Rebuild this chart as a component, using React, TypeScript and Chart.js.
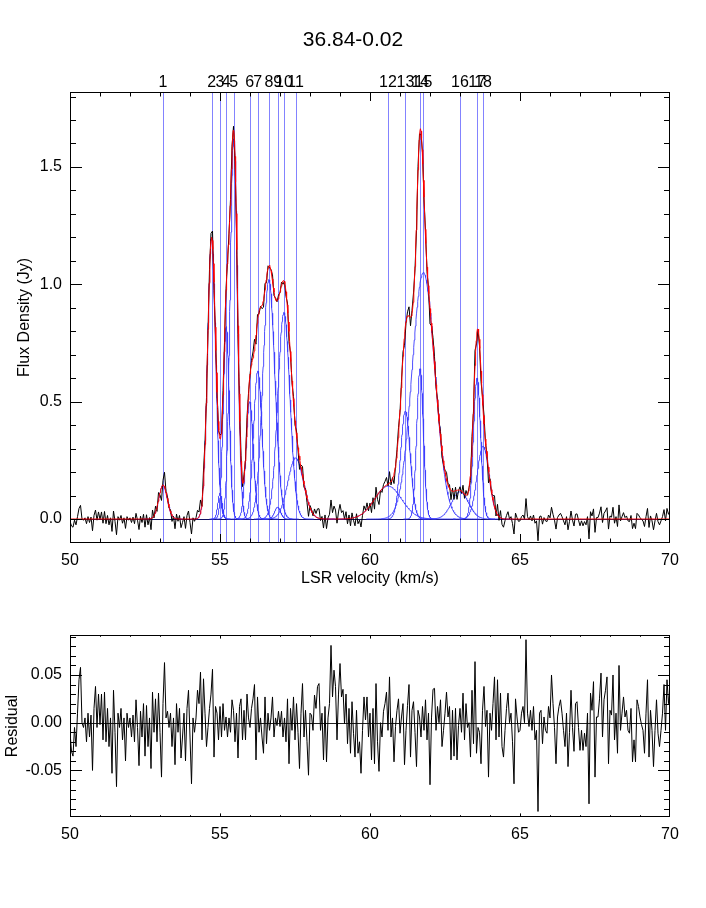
import React, { useEffect, useRef } from "react";
import { Chart, registerables } from "chart.js";

Chart.register(...registerables);

// ---------------- data ----------------
const TITLE = "36.84-0.02";
const X_TITLE = "LSR velocity (km/s)";
const Y_TITLE = "Flux Density (Jy)";
const RES_TITLE = "Residual";

const xTickValues = [50, 55, 60, 65, 70];
const yTickValues = [0, 0.5, 1.0, 1.5];
const resTickValues = [-0.05, 0, 0.05];

const componentLabels = ["1", "2", "3", "4", "5", "6", "7", "8", "9", "10", "11", "12", "13", "14", "15", "16", "17", "18"];
const componentCenters = [53.1, 54.72, 55.0, 55.21, 55.46, 55.99, 56.26, 56.63, 56.92, 57.13, 57.52, 60.6, 61.18, 61.67, 61.78, 63.0, 63.57, 63.77];
const componentAmplitudes = [0.145, 1.2, 0.11, 0.82, 1.62, 0.5, 0.63, 1.02, 0.05, 0.88, 0.26, 0.14, 0.46, 0.64, 1.05, 0.116, 0.6, 0.31];
const componentSigmas = [0.14, 0.135, 0.07, 0.1, 0.12, 0.12, 0.14, 0.2, 0.1, 0.2, 0.26, 0.45, 0.16, 0.11, 0.38, 0.28, 0.12, 0.2];

const CHANNEL_START = 50;
const CHANNEL_STEP = 0.05;
// residual (data - fit) per channel, in mJy, from 50.00 to 70.00 km/s
const residualMilliJy = [
  -10, -30, -35, -5, -25, 10, 45, 58, 0, -5, 5, -20, 10, -15, 8, -50, 15, 38, -5, 30,
  -2, 30, -18, 32, -20, 15, -25, 5, -53, 34, -10, -67, 10, -5, 15, -18, 5, -40, 10, -5,
  5, -15, 8, -20, 24, -5, -45, 12, -15, 20, -35, 18, -25, 5, -48, 32, -10, 25, -20, 31,
  -10, -57, 20, 63, 5, 12, -5, 10, -25, 5, -44, 20, -10, 15, -37, -15, 10, -40, 15, 34,
  -15, -64, 5, -10, 5, 34, 20, 53, -18, 46, 10, -25, -5, 15, 30, 56, -36, 17, 10, -18,
  17, -15, 20, -8, 6, -15, 5, -10, 24, 13, -20, 10, -37, 17, 25, -18, 13, -18, 30, 5,
  -5, 15, 25, 40, -39, 27, -10, 5, -15, -32, 27, -22, 10, -8, 5, 27, -15, 5, -3, 12,
  -4, 12, -15, 5, -20, 25, -43, 15, -8, 27, -18, 20, -10, -48, 10, 41, -15, 13, -20, -55,
  10, 8, -8, 29, 15, 38, 41, -8, 10, -39, 17, -41, 5, 20, 81, 27, 55, 38, -18, 30,
  62, 27, 35, -1, 30, -22, 15, -32, 22, -11, -36, 13, -32, -20, -53, -8, 27, 3, 27, -15,
  10, -39, 15, -43, 41, -20, -51, 0, -15, 12, 20, 32, -8, 48, -15, 5, -41, -4, 13, 25,
  -11, 6, 20, -44, -8, 18, 40, -36, 13, 22, -10, -46, 13, 6, -15, 17, -8, 24, -18, 10,
  -65, 5, 35, 36, -8, 17, 0, 24, -25, -8, 10, 32, 6, 17, -39, 13, -35, 15, -39, -3,
  15, -10, 31, -18, 20, -5, 0, -36, 34, -22, 64, -32, -5, -10, -43, 13, 38, -4, 13, -57,
  10, -8, 20, 48, -18, 45, -15, 31, -25, -36, -8, 15, 31, 0, 10, -20, -64, 25, 6, -10,
  -8, 10, 17, 0, 87, 10, -4, 13, -8, 17, -18, -8, -93, 10, 13, -22, 6, -8, -11, 17,
  5, 50, 20, -5, -43, 6, 17, 24, 10, -8, -25, 10, -46, -10, 34, -5, -30, 20, 22, -5,
  -29, -8, -29, -11, -25, 10, -85, 31, 13, 43, -57, 6, 6, 25, 52, -15, 24, 34, 48, -43,
  13, 8, 50, -18, 10, -32, 60, -8, 10, 27, 6, 13, -8, -11, 15, -41, -18, -41, 24, 17,
  6, -2, -8, -32, 10, 45, -36, 13, -8, -46, -8, 24, -11, -25, -8, 10, 40, -8, 45, 20, 35,
];

// ---------------- helpers ----------------
const FONT = "'Liberation Sans', Arial, Helvetica, sans-serif";

function gauss(i: number, v: number) {
  const d = (v - componentCenters[i]) / componentSigmas[i];
  return componentAmplitudes[i] * Math.exp(-0.5 * d * d);
}
function fitModel(v: number) {
  let s = 0;
  for (let i = 0; i < componentCenters.length; i++) s += gauss(i, v);
  return s;
}

const velocities = residualMilliJy.map((_, i) => +(CHANNEL_START + i * CHANNEL_STEP).toFixed(2));
const residualPoints = velocities.map((v, i) => ({ x: v, y: residualMilliJy[i] / 1000 }));
const spectrumPoints = velocities.map((v, i) => ({ x: v, y: fitModel(v) + residualMilliJy[i] / 1000 }));
const fitPoints: { x: number; y: number }[] = [];
for (let k = 0; k <= 1000; k++) {
  const v = 50 + k * 0.02;
  fitPoints.push({ x: v, y: fitModel(v) });
}
const componentPoints = componentCenters.map((c, i) => {
  const pts: { x: number; y: number }[] = [];
  const s = componentSigmas[i];
  const n = 200;
  for (let k = 0; k <= n; k++) {
    const v = c - 5 * s + (10 * s * k) / n;
    pts.push({ x: v, y: gauss(i, v) });
  }
  return pts;
});

function drawFrame(
  chart: any,
  xMajor: number[],
  xMinor: number[],
  yMajor: number[],
  yMinor: number[],
  xLenMajor: number,
  xLenMinor: number,
  yLenMajor: number,
  yLenMinor: number
) {
  const { ctx, chartArea: a, scales } = chart;
  const x = scales.x;
  const y = scales.y;
  ctx.save();
  ctx.strokeStyle = "#000";
  ctx.lineWidth = 1;
  ctx.strokeRect(a.left + 0.5, a.top + 0.5, a.right - a.left - 1, a.bottom - a.top - 1);
  ctx.beginPath();
  const xt = (vals: number[], len: number) => {
    vals.forEach((v) => {
      const px = Math.round(x.getPixelForValue(v)) + 0.5;
      ctx.moveTo(px, a.bottom);
      ctx.lineTo(px, a.bottom - len);
      ctx.moveTo(px, a.top);
      ctx.lineTo(px, a.top + len);
    });
  };
  const yt = (vals: number[], len: number) => {
    vals.forEach((v) => {
      const py = Math.round(y.getPixelForValue(v)) + 0.5;
      ctx.moveTo(a.left, py);
      ctx.lineTo(a.left + len, py);
      ctx.moveTo(a.right, py);
      ctx.lineTo(a.right - len, py);
    });
  };
  xt(xMajor, xLenMajor);
  xt(xMinor, xLenMinor);
  yt(yMajor, yLenMajor);
  yt(yMinor, yLenMinor);
  ctx.stroke();
  ctx.restore();
}

const xMinorTicks: number[] = [];
for (let v = 51; v < 70; v++) if (v % 5 !== 0) xMinorTicks.push(v);
const yMinorTicks: number[] = [];
for (let k = -1; k <= 18; k++) if (k % 5 !== 0) yMinorTicks.push(k / 10);
const resMinorTicks: number[] = [];
for (let k = -9; k <= 9; k++) if (k % 5 !== 0) resMinorTicks.push(k / 100);

const topPlugin = {
  id: "topDecor",
  beforeDatasetsDraw(chart: any) {
    const { ctx, chartArea: a, scales } = chart;
    const x = scales.x;
    const y = scales.y;
    ctx.save();
    ctx.strokeStyle = "rgba(90,90,255,0.75)";
    ctx.lineWidth = 1;
    componentCenters.forEach((c) => {
      const px = Math.round(x.getPixelForValue(c)) + 0.5;
      ctx.beginPath();
      ctx.moveTo(px, a.top);
      ctx.lineTo(px, a.bottom);
      ctx.stroke();
    });
    const py = Math.round(y.getPixelForValue(0)) + 0.5;
    ctx.strokeStyle = "#101060";
    ctx.beginPath();
    ctx.moveTo(a.left, py);
    ctx.lineTo(a.right, py);
    ctx.stroke();
    ctx.restore();
  },
  afterDraw(chart: any) {
    const { ctx, chartArea: a, scales } = chart;
    drawFrame(chart, [55, 60, 65], xMinorTicks, yTickValues, yMinorTicks, 9, 4.5, 12, 6);
    ctx.save();
    ctx.fillStyle = "#000";
    ctx.font = `16px ${FONT}`;
    ctx.textAlign = "center";
    ctx.textBaseline = "alphabetic";
    componentCenters.forEach((c, i) => {
      ctx.fillText(componentLabels[i], scales.x.getPixelForValue(c), a.top - 5);
    });
    ctx.font = `21px ${FONT}`;
    ctx.textBaseline = "middle";
    ctx.fillText(TITLE, 353, 40);
    ctx.restore();
  },
};

const resPlugin = {
  id: "resDecor",
  beforeDatasetsDraw(chart: any) {
    const { ctx, chartArea: a, scales } = chart;
    const py = Math.round(scales.y.getPixelForValue(0)) + 0.5;
    ctx.save();
    ctx.strokeStyle = "#222";
    ctx.lineWidth = 1;
    ctx.beginPath();
    ctx.moveTo(a.left, py);
    ctx.lineTo(a.right, py);
    ctx.stroke();
    ctx.restore();
  },
  afterDraw(chart: any) {
    drawFrame(chart, [55, 60, 65], xMinorTicks, resTickValues, resMinorTicks, 3.6, 1.8, 12, 6);
  },
};

const tickFont = { family: FONT, size: 16 };

export default function App() {
  const topRef = useRef<HTMLCanvasElement | null>(null);
  const botRef = useRef<HTMLCanvasElement | null>(null);

  useEffect(() => {
    if (!topRef.current || !botRef.current) return;
    const line = (data: any, color: string, width = 1) => ({
      data,
      borderColor: color,
      borderWidth: width,
      pointRadius: 0,
      fill: false,
      tension: 0,
    });

    const top = new Chart(topRef.current, {
      type: "line",
      data: {
        datasets: [
          line(fitPoints, "#ff0000", 1),
          line(spectrumPoints, "#000000", 1),
          ...componentPoints.map((p) => line(p, "rgba(60,60,255,0.9)", 1)),
        ],
      },
      options: {
        animation: false,
        responsive: false,
        events: [],
        layout: { padding: { top: 92, right: 36, left: 0, bottom: 0 } },
        plugins: { legend: { display: false }, tooltip: { enabled: false }, title: { display: false } },
        scales: {
          x: {
            type: "linear",
            min: 50,
            max: 70,
            grid: { display: false, drawTicks: false },
            border: { display: false },
            afterBuildTicks: (s: any) => {
              s.ticks = xTickValues.map((v) => ({ value: v }));
            },
            afterFit: (s: any) => {
              s.height = 57;
            },
            ticks: { color: "#000", font: tickFont, padding: 8, maxRotation: 0, autoSkip: false, callback: (v: any) => String(v) },
            title: { display: true, text: X_TITLE, color: "#000", font: tickFont, padding: { top: 0, bottom: 12 } },
          },
          y: {
            type: "linear",
            min: -0.1023,
            max: 1.8194,
            grid: { display: false, drawTicks: false },
            border: { display: false },
            afterBuildTicks: (s: any) => {
              s.ticks = yTickValues.map((v) => ({ value: v }));
            },
            afterFit: (s: any) => {
              s.width = 70;
            },
            ticks: { color: "#000", font: tickFont, padding: 8, autoSkip: false, callback: (v: any) => Number(v).toFixed(1) },
            title: { display: true, text: Y_TITLE, color: "#000", font: tickFont, padding: { top: 15, bottom: 0 } },
          },
        },
      },
      plugins: [topPlugin],
    } as any);

    const bot = new Chart(botRef.current, {
      type: "line",
      data: { datasets: [line(residualPoints, "#000000", 1)] },
      options: {
        animation: false,
        responsive: false,
        events: [],
        layout: { padding: { top: 35, right: 36, left: 0, bottom: 0 } },
        plugins: { legend: { display: false }, tooltip: { enabled: false }, title: { display: false } },
        scales: {
          x: {
            type: "linear",
            min: 50,
            max: 70,
            grid: { display: false, drawTicks: false },
            border: { display: false },
            afterBuildTicks: (s: any) => {
              s.ticks = xTickValues.map((v) => ({ value: v }));
            },
            afterFit: (s: any) => {
              s.height = 91;
            },
            ticks: { color: "#000", font: tickFont, padding: 8, maxRotation: 0, autoSkip: false, callback: (v: any) => String(v) },
          },
          y: {
            type: "linear",
            min: -0.0988,
            max: 0.0919,
            grid: { display: false, drawTicks: false },
            border: { display: false },
            afterBuildTicks: (s: any) => {
              s.ticks = resTickValues.map((v) => ({ value: v }));
            },
            afterFit: (s: any) => {
              s.width = 70;
            },
            ticks: { color: "#000", font: tickFont, padding: 8, autoSkip: false, callback: (v: any) => Number(v).toFixed(2) },
            title: { display: true, text: RES_TITLE, color: "#000", font: tickFont, padding: { top: 3, bottom: 0 } },
          },
        },
      },
      plugins: [resPlugin],
    } as any);

    return () => {
      top.destroy();
      bot.destroy();
    };
  }, []);

  return (
    <div style={{ position: "absolute", left: 0, top: 0, width: 706, height: 908, background: "#fff" }}>
      <canvas ref={topRef} width={706} height={600} style={{ position: "absolute", left: 0, top: 0 }} />
      <canvas ref={botRef} width={706} height={308} style={{ position: "absolute", left: 0, top: 600 }} />
    </div>
  );
}
